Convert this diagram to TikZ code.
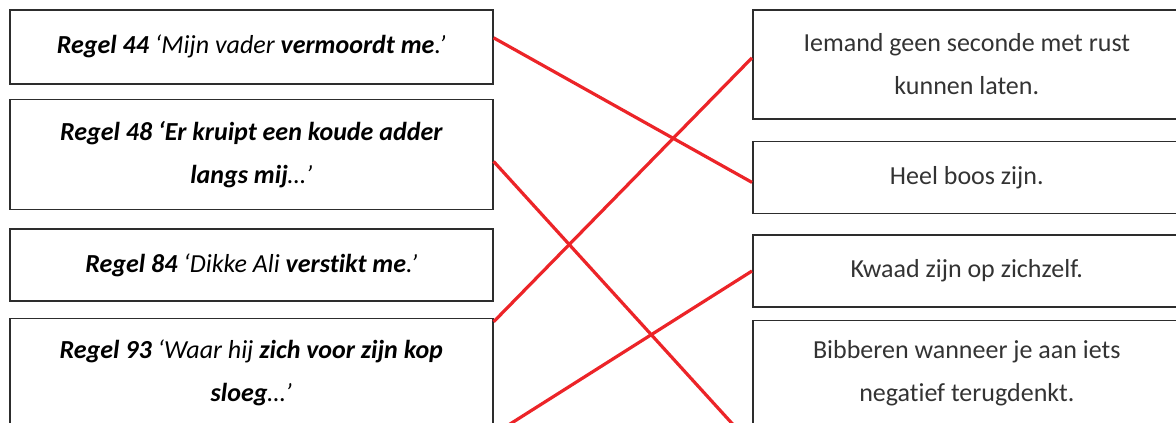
\documentclass[tikz,border=0pt]{standalone}
\usepackage{fontspec}
\setmainfont{Carlito}[Ligatures=NoCommon]
\usetikzlibrary{positioning}
\definecolor{linkred}{RGB}{236,36,40}
\definecolor{boxline}{RGB}{45,45,45}

\begin{document}
\begin{tikzpicture}[
  x=1pt,y=-1pt,
  font=\fontsize{26}{43}\selectfont,
  card/.style={draw=boxline,line width=1.6pt,align=center,inner sep=0pt},
  quote/.style={card,minimum width=483pt,font=\fontsize{26}{43}\selectfont\itshape,text=black},
  meaning/.style={card,minimum width=428pt,text=black!80},
  link/.style={draw=linkred,line width=3.2pt}]
\useasboundingbox (0,0) rectangle (1176,423);
\clip (0,0) rectangle (1176,423);
\node[quote,minimum height=74pt,anchor=north west] (l1) at (9,9)
  {{\bfseries Regel 44} ‘Mijn vader {\bfseries vermoordt me}.’};
\node[quote,minimum height=110pt,below=14pt of l1] (l2)
  {{\bfseries Regel 48 ‘Er kruipt een koude adder}\\{\bfseries langs mij}…’};
\node[quote,minimum height=72pt,below=18pt of l2] (l3)
  {{\bfseries Regel 84} ‘Dikke Ali {\bfseries verstikt me}.’};
\node[quote,minimum height=108pt,below=16pt of l3] (l4)
  {{\bfseries Regel 93} ‘Waar hij {\bfseries zich voor zijn kop}\\{\bfseries sloeg}…’};
\node[meaning,minimum height=109pt,anchor=north west] (r1) at (752,9)
  {Iemand geen seconde met rust\\kunnen laten.};
\node[meaning,minimum height=72pt,below=21pt of r1] (r2) {Heel boos zijn.};
\node[meaning,minimum height=72pt,below=20pt of r2] (r3) {Kwaad zijn op zichzelf.};
\node[meaning,minimum height=106pt,below=12pt of r3] (r4)
  {Bibberen wanneer je aan iets\\negatief terugdenkt.};
\coordinate (b-end) at ([yshift=-18pt]r4.south west);
\coordinate (d-start) at ([yshift=-7pt]l4.south east);
\draw[link] ([yshift=9pt]l1.east) -- ([yshift=-5pt]r2.west);
\draw[link] ([yshift=-7pt]l2.east) -- (b-end);
\draw[link] ([yshift=-4pt]l4.north east) -- ([yshift=6.5pt]r1.west);
\draw[link] (d-start) -- (r3.west);
\end{tikzpicture}
\end{document}
